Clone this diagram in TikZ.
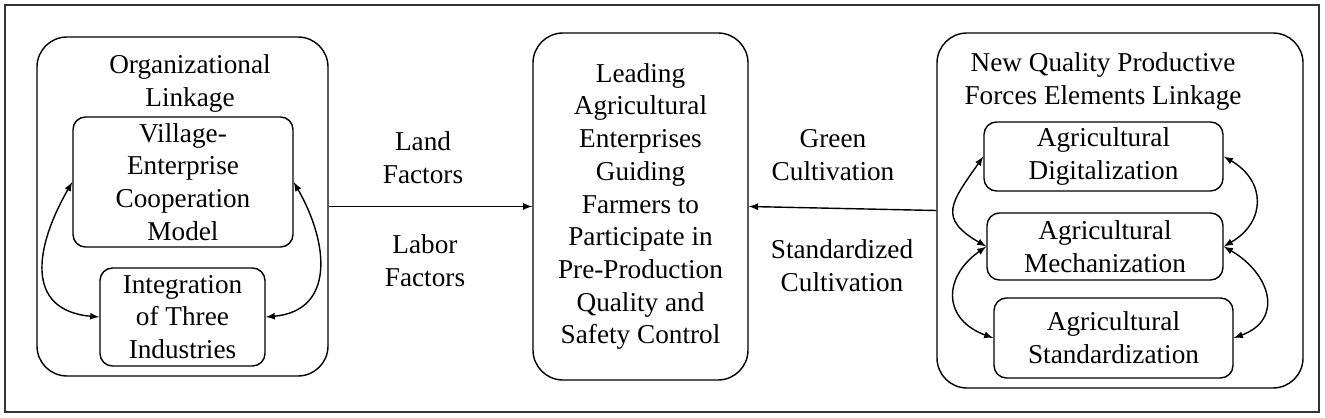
\documentclass[tikz,border=0pt]{standalone}
\usepackage{fontspec}
\setmainfont{Liberation Serif}
\begin{document}
\begin{tikzpicture}[font=\fontsize{15.5}{18.6}\selectfont, line width=0.8pt]
            \tikzset{grpbox/.style={rectangle,rounded corners=0.6cm,draw=black, inner sep=0pt, text centered},
                itembox/.style={rectangle,rounded corners=0.25cm,draw=black, inner sep=0pt, align=center},
                lbl/.style={align=center}}
        \useasboundingbox (0,0) rectangle (26.5,8.34);
        \draw[black!80] (0.1,0.1) rectangle (26.38,8.24);

        % left group
        \node[grpbox, minimum width=5.82cm, minimum height=6.78cm] (G1) at (3.65,4.21) {};
        \node[lbl] (T1) at (3.8,6.67) {Organizational\\Linkage};
        \node[itembox, minimum width=4.4cm, minimum height=2.6cm] (V) at (3.66,4.7) {Village-\\Enterprise\\Cooperation\\Model};
        \node[itembox, minimum width=3.3cm, minimum height=1.96cm] (I) at (3.65,2.0) {Integration\\of Three\\Industries};

        % middle
        \node[grpbox, align=center, minimum width=4.3cm, minimum height=6.94cm] (M) at (12.81,4.21) {Leading\\Agricultural\\Enterprises\\Guiding\\Farmers to\\Participate in\\Pre-Production\\Quality and\\Safety Control};

        % right group
        \node[grpbox, minimum width=7.32cm, minimum height=7.1cm] (G2) at (22.4,4.13) {};
        \node[lbl] (T2) at (22.06,6.71) {New Quality Productive\\Forces Elements Linkage};
        \node[itembox, minimum width=4.78cm, minimum height=1.38cm] (D) at (22.07,5.21) {Agricultural\\Digitalization};
        \node[itembox, minimum width=4.72cm, minimum height=1.34cm] (C) at (22.1,3.41) {Agricultural\\Mechanization};
        \node[itembox, minimum width=4.78cm, minimum height=1.6cm] (S) at (22.27,1.58) {Agricultural\\Standardization};

        % labels
        \node[lbl] (land) at (8.46,5.18) {Land\\Factors};
        \node[lbl] (labor) at (8.5,3.12) {Labor\\Factors};
        \node[lbl] (green) at (16.66,5.24) {Green\\Cultivation};
        \node[lbl] (stdc) at (16.84,3.02) {Standardized\\Cultivation};

        \draw[arrows=-latex] (G1.east) to (M.west);
        \draw[arrows=-latex] (G2.west) to (M.east);

        \draw[arrows=latex-latex] (V.west) to[out=240,in=175,looseness=1.4] (I.west);
        \draw[arrows=latex-latex] (V.east) to[out=-60,in=5,looseness=1.3] (I.east);

        \draw[arrows=latex-latex] (D.west) to[out=235,in=150,looseness=1.6] (C.west);
        \draw[arrows=latex-latex] (C.west) to[out=215,in=160,looseness=1.5] (S.west);
        \draw[arrows=latex-latex] (D.east) to[out=-30,in=30,looseness=1.4] (C.east);
        \draw[arrows=latex-latex] (C.east) to[out=-30,in=20,looseness=1.5] (S.east);

        \end{tikzpicture}
\end{document}
